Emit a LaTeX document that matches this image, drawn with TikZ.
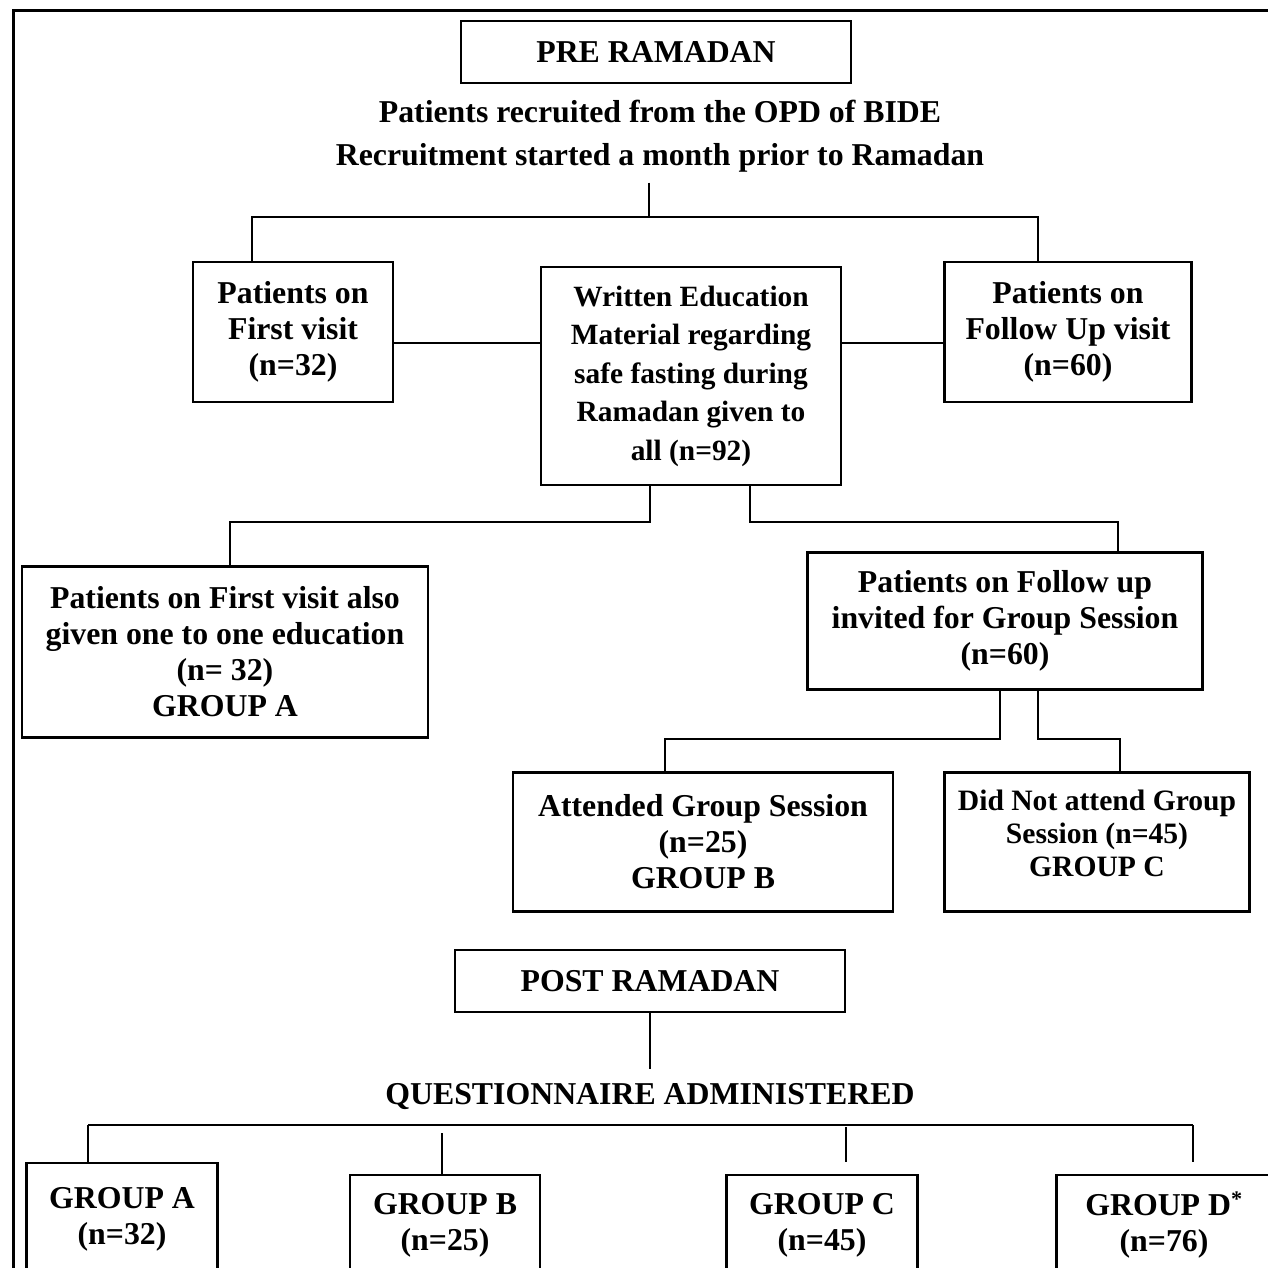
\documentclass[tikz,border=0pt]{standalone}
\usepackage{fontspec}
\setmainfont{Liberation Serif}
\usetikzlibrary{positioning,calc}
\tikzset{>=latex}
\newcommand{\flowfont}{\bfseries\fontsize{31.8}{36}\selectfont}
\newcommand{\edufont}{\bfseries\fontsize{29.4}{38.5}\selectfont}
\newcommand{\narrowfont}{\bfseries\fontsize{29.6}{33}\selectfont}

\begin{document}
\begin{tikzpicture}[x=1pt,y=-1pt,
    box/.style={draw,line width=2.6pt,align=center,inner sep=0pt,font=\flowfont},
    txt/.style={inner sep=0pt,font=\flowfont},
    conn/.style={line width=2pt}]
        \useasboundingbox (0,0) rectangle (1268,1268);
        \clip (0,0) rectangle (1268,1268);
        % outer frame
        \draw[line width=3pt] (13,1290) -- (13,11) -- (1290,11);
        % pre ramadan
        \node[box,minimum width=390,minimum height=62] at (656,52) (pre) {PRE RAMADAN};
        \node[txt] at (660,112) (opd) {Patients recruited from the OPD of BIDE};
        \node[txt] at (660,158) (start) {Recruitment started a month prior to Ramadan};
        \node[box,minimum width=200,minimum height=140] at (293,332) (first) {Patients on\\First visit\\(n=32)};
        \node[box,minimum width=300,minimum height=218,font=\edufont] at (691,376) (edu) {Written Education\\Material regarding\\safe fasting during\\Ramadan given to\\all (n=92)};
        \node[box,minimum width=247,minimum height=140] at (1068,332) (follow) {Patients on\\Follow Up visit\\(n=60)};
        \node[box,minimum width=406,minimum height=171] at (225,652) (oneone) {Patients on First visit also\\given one to one education\\(n= 32)\\GROUP A};
        \node[box,minimum width=395,minimum height=137] at (1005,621) (invited) {Patients on Follow up\\invited for Group Session\\(n=60)};
        \node[box,minimum width=380,minimum height=139] at (703,842) (attended) {Attended Group Session\\(n=25)\\GROUP B};
        \node[box,minimum width=305,minimum height=139,font=\narrowfont] at (1097,842) (notatt) {Did Not attend Group\\Session (n=45)\\GROUP C\\[-15pt]};
        % connectors
        \coordinate (top) at (649,217);
        \coordinate (dl) at (252,217);
        \coordinate (dr) at (1038,217);
        \draw[conn] ($(start.south -| top)+(0,10)$) -- (top);
        \draw[conn] (first.north -| dl) -- (dl) -- (dr) -- (follow.north -| dr);
        \coordinate (row) at (0,343);
        \draw[conn] (first.east |- row) -- (edu.west |- row);
        \draw[conn] (edu.east |- row) -- (follow.west |- row);
        \coordinate (el) at (650,522);
        \coordinate (er) at (750,522);
        \coordinate (al) at (230,522);
        \coordinate (ar) at (1118,522);
        \draw[conn] (edu.south -| el) -- (el) -- (al) -- (oneone.north -| al);
        \draw[conn] (edu.south -| er) -- (er) -- (ar) -- (invited.north -| ar);
        \coordinate (il) at (1000,739);
        \coordinate (ir) at (1038,739);
        \coordinate (bl) at (665,739);
        \coordinate (br) at (1120,739);
        \draw[conn] (invited.south -| il) -- (il) -- (bl) -- (attended.north -| bl);
        \draw[conn] (invited.south -| ir) -- (ir) -- (br) -- (notatt.north -| br);
        % post ramadan
        \node[box,minimum width=390,minimum height=62] at (650,981) (post) {POST RAMADAN};
        \node[txt] at (650,1097) (quest) {QUESTIONNAIRE ADMINISTERED};
        \draw[conn] (post.south) -- ($(quest.north)+(0,-15)$);
        \node[box,minimum width=191,minimum height=112] at (122,1219) (ga) {GROUP A\\(n=32)};
        \node[box,minimum width=190,minimum height=100] at (445,1225) (gb) {GROUP B\\(n=25)};
        \node[box,minimum width=191,minimum height=100] at (822,1225) (gc) {GROUP C\\(n=45)};
        \node[box,minimum width=215,minimum height=100] at (1164,1225) (gd) {GROUP D\textsuperscript{*}\\(n=76)};
        \coordinate (qa) at (88,1125);
        \coordinate (qb) at (442,1133);
        \coordinate (qc) at (846,1127);
        \coordinate (qd) at (1193,1125);
        \draw[conn] (qa) -- (qd);
        \draw[conn] (qa) -- (ga.north -| qa);
        \draw[conn] (qb) -- (gb.north -| qb);
        \draw[conn] (qc) -- ($(gc.north -| qc)+(0,-12)$);
        \draw[conn] (qd) -- ($(gd.north -| qd)+(0,-12)$);
    \end{tikzpicture}
\end{document}
